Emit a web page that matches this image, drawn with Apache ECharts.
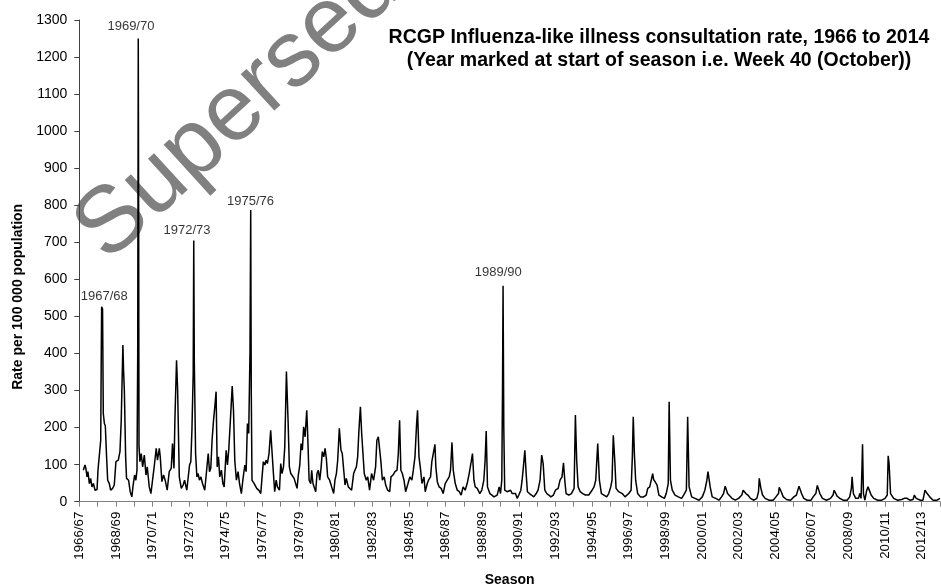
<!DOCTYPE html>
<html>
<head>
<meta charset="utf-8">
<script src="https://cdn.jsdelivr.net/npm/echarts@6/dist/echarts.min.js"></script>
<style>
html,body{margin:0;padding:0;background:#fff;}
#chart{width:941px;height:584px;}
</style>
</head>
<body>
<div id="chart"></div>
<script>
// Season tick labels (season index 0 = 1966/67, starting at week 40)
const seasonLabels = ['1966/67','1967/68','1968/69','1969/70','1970/71','1971/72','1972/73','1973/74','1974/75','1975/76',
  '1976/77','1977/78','1978/79','1979/80','1980/81','1981/82','1982/83','1983/84','1984/85','1985/86',
  '1986/87','1987/88','1988/89','1989/90','1990/91','1991/92','1992/93','1993/94','1994/95','1995/96',
  '1996/97','1997/98','1998/99','1999/00','2000/01','2001/02','2002/03','2003/04','2004/05','2005/06',
  '2006/07','2007/08','2008/09','2009/10','2010/11','2011/12','2012/13','2013/14'];

// Weekly ILI rate per 100 000, as [seasons since week 40 of 1966, rate]
const rate1966to1971 = [[0.22,85],[0.31,99],[0.36,90],[0.42,67],[0.47,81],[0.55,49],[0.62,63],[0.69,40],[0.77,49],[0.86,31],[0.97,33],
  [1.02,85],[1.09,81],[1.17,166],[1.20,400],[1.22,526],[1.27,520],[1.31,238],[1.37,211],[1.42,205],[1.49,121],[1.55,58],[1.64,49],[1.71,31],[1.82,36],[1.91,45],
  [2.0,108],[2.13,112],[2.22,135],[2.29,220],[2.38,423],[2.42,351],[2.46,301],[2.53,121],[2.58,63],[2.69,58],[2.78,27],[2.87,13],[2.94,45],
  [3.02,72],[3.09,58],[3.15,85],[3.19,400],[3.22,1250],[3.24,800],[3.26,150],[3.31,108],[3.38,130],[3.46,94],[3.55,126],[3.64,72],[3.71,94],[3.82,40],[3.91,22],
  [4.0,58],[4.11,103],[4.2,144],[4.27,112],[4.37,144],[4.42,121],[4.51,54],[4.6,72],[4.69,58],[4.8,31],[4.91,81],
  [5.02,90],[5.09,157],[5.17,90],[5.22,220],[5.31,382],[5.37,301],[5.46,67],[5.57,36],[5.67,45],[5.75,58],[5.87,31],[5.95,27]];
const rate1972to1977 = [[6.02,99],[6.09,108],[6.15,193],[6.22,346],[6.25,705],[6.28,380],[6.35,130],[6.42,67],[6.49,76],[6.56,58],[6.64,67],[6.73,49],[6.85,31],[6.93,36],
  [7.04,130],[7.11,81],[7.18,90],[7.25,166],[7.33,220],[7.40,256],[7.47,297],[7.53,94],[7.60,121],[7.67,67],[7.76,85],[7.84,49],[7.91,40],
  [8.02,139],[8.09,99],[8.16,139],[8.25,220],[8.35,312],[8.42,247],[8.49,112],[8.58,58],[8.67,81],[8.75,49],[8.85,22],[8.93,58],
  [9.04,99],[9.11,81],[9.18,211],[9.25,184],[9.32,400],[9.36,787],[9.39,300],[9.43,58],[9.55,49],[9.69,36],[9.82,30],[9.91,22],[9.98,67],
  [10.05,108],[10.13,99],[10.2,112],[10.27,103],[10.36,130],[10.45,193],[10.53,130],[10.6,76],[10.67,27],[10.75,58],[10.82,40],[10.93,31],
  [11.0,103],[11.07,76],[11.15,94],[11.22,148],[11.31,351],[11.4,220],[11.47,94],[11.55,76],[11.64,80],[11.73,63],[11.82,58],[11.89,36],[11.96,72]];
const rate1978to1983 = [[12.04,99],[12.11,157],[12.18,139],[12.25,202],[12.33,175],[12.42,247],[12.47,184],[12.55,58],[12.64,49],[12.69,85],[12.76,49],[12.84,45],[12.91,27],[12.98,76],
  [13.05,85],[13.13,58],[13.2,90],[13.27,135],[13.35,121],[13.42,144],[13.49,117],[13.56,67],[13.67,58],[13.78,40],[13.89,22],[13.96,58],
  [14.04,76],[14.11,112],[14.2,198],[14.29,139],[14.36,130],[14.44,85],[14.51,45],[14.58,63],[14.69,40],[14.76,40],[14.87,31],[14.98,76],
  [15.05,85],[15.13,94],[15.2,121],[15.27,193],[15.35,256],[15.42,184],[15.49,130],[15.56,76],[15.67,58],[15.75,67],[15.85,31],[15.96,76],
  [16.07,58],[16.18,94],[16.25,166],[16.33,175],[16.4,180],[16.47,108],[16.55,58],[16.65,67],[16.73,45],[16.84,31],[16.95,27],
  [17.02,67],[17.13,72],[17.24,81],[17.35,85],[17.42,130],[17.49,220],[17.56,85],[17.64,76],[17.73,58],[17.82,27],[17.95,49]];
const rate1984to1989 = [[18.05,67],[18.16,58],[18.24,85],[18.33,121],[18.42,211],[18.47,247],[18.55,121],[18.64,85],[18.71,49],[18.82,67],[18.89,27],
  [19.0,49],[19.07,58],[19.18,67],[19.25,108],[19.33,130],[19.42,155],[19.47,94],[19.55,54],[19.65,40],[19.76,36],[19.87,22],[19.98,49],
  [20.09,58],[20.2,67],[20.27,85],[20.35,160],[20.42,85],[20.53,49],[20.64,31],[20.75,27],[20.85,18],[20.96,40],
  [21.07,31],[21.18,49],[21.29,76],[21.4,108],[21.47,130],[21.55,58],[21.62,40],[21.73,36],[21.87,22],[21.98,31],
  [22.09,58],[22.16,112],[22.22,191],[22.29,40],[22.42,22],[22.53,18],[22.64,13],[22.82,18],[22.93,40],
  [23.0,22],[23.07,58],[23.11,300],[23.14,583],[23.18,200],[23.23,31],[23.36,27],[23.55,31],[23.64,22],[23.82,22],[23.91,9]];
const rate1990to1995 = [[24.0,18],[24.11,31],[24.18,58],[24.25,94],[24.33,139],[24.4,76],[24.47,27],[24.58,22],[24.69,18],[24.82,13],[24.95,22],
  [25.05,31],[25.16,58],[25.25,126],[25.33,103],[25.42,31],[25.53,22],[25.64,18],[25.75,13],[25.89,18],
  [26.0,31],[26.15,36],[26.25,58],[26.36,67],[26.44,105],[26.51,58],[26.58,22],[26.73,18],[26.87,22],
  [27.02,36],[27.09,234],[27.16,112],[27.24,40],[27.35,27],[27.49,22],[27.64,18],[27.82,18],
  [28.0,31],[28.11,40],[28.2,58],[28.31,157],[28.4,58],[28.51,22],[28.65,18],[28.8,13],[28.91,22],
  [29.02,40],[29.09,58],[29.16,179],[29.24,112],[29.31,36],[29.45,27],[29.51,27],[29.65,22],[29.8,13]];
const rate1996to2001 = [[30.0,22],[30.13,31],[30.2,121],[30.25,229],[30.31,130],[30.38,58],[30.49,22],[30.64,13],[30.82,13],[30.96,18],
  [31.04,36],[31.15,40],[31.25,36],[31.31,76],[31.36,60],[31.44,54],[31.55,45],[31.65,18],[31.8,13],[31.95,9],
  [32.05,22],[32.16,49],[32.21,270],[32.28,58],[32.38,31],[32.53,18],[32.71,13],[32.89,9],
  [33.0,18],[33.15,31],[33.22,229],[33.3,40],[33.44,13],[33.62,9],[33.84,4],
  [34.02,13],[34.16,31],[34.27,58],[34.33,81],[34.45,40],[34.56,13],[34.75,9],[34.93,4],
  [35.07,13],[35.18,22],[35.27,42],[35.4,22],[35.5,18],[35.64,9],[35.82,4]];
const rate2002to2007 = [[36.0,9],[36.18,18],[36.25,31],[36.4,22],[36.51,18],[36.65,9],[36.84,4],
  [37.0,9],[37.09,27],[37.13,63],[37.22,36],[37.31,18],[37.45,9],[37.67,4],[37.89,4],
  [38.04,13],[38.18,22],[38.22,39],[38.33,27],[38.44,13],[38.62,6],[38.84,4],
  [39.02,13],[39.16,18],[39.3,42],[39.44,22],[39.56,9],[39.75,4],[39.96,4],
  [40.07,13],[40.22,22],[40.3,44],[40.44,22],[40.58,9],[40.8,4],
  [41.02,9],[41.16,18],[41.22,31],[41.38,15],[41.53,9],[41.71,4],[41.93,4]];
const rate2008to2013 = [[42.07,13],[42.16,36],[42.2,67],[42.27,22],[42.4,9],[42.55,9],[42.62,22],[42.69,9],[42.74,94],[42.77,155],[42.82,22],[42.9,4],
  [43.0,31],[43.07,40],[43.14,36],[43.24,18],[43.38,9],[43.6,4],[43.82,4],
  [44.0,9],[44.12,18],[44.17,124],[44.22,103],[44.3,22],[44.47,9],[44.69,4],[44.91,6],
  [45.05,9],[45.2,9],[45.35,4],[45.53,6],[45.6,18],[45.7,9],[45.93,4],
  [46.07,4],[46.18,31],[46.3,22],[46.44,13],[46.62,4],[46.84,4],[47.0,9]];

// Labelled epidemic seasons: label and its anchor [season position, rate]
const peakLabels = ['1967/68','1969/70','1972/73','1975/76','1989/90'];
const peakLabelAnchors = [[1.365,553],[2.82,1284],[5.88,731],[9.35,810],[22.88,618]];

const titleText = 'RCGP Influenza-like illness consultation rate, 1966 to 2014\n(Year marked at start of season i.e. Week 40 (October))';

const FONT = '"Liberation Sans", Arial, Helvetica, sans-serif';
const points = [].concat(rate1966to1971, rate1972to1977, rate1978to1983, rate1984to1989,
  rate1990to1995, rate1996to2001, rate2002to2007, rate2008to2013);
const annotations = peakLabels.map((n, i) => ({ name: n, value: peakLabelAnchors[i] }));

const chart = echarts.init(document.getElementById('chart'), null, { renderer: 'canvas' });
chart.setOption({
  animation: false,
  backgroundColor: '#ffffff',
  textStyle: { fontFamily: FONT },
  title: {
    text: titleText,
    left: 654, top: 21, textAlign: 'center',
    textStyle: { fontFamily: FONT, fontSize: 19.5, fontWeight: 'bold', color: '#000', lineHeight: 23.3 }
  },
  grid: { left: 79.3, right: 1, top: 20, bottom: 82.3, containLabel: false, outerBoundsMode: 'none' },
  xAxis: {
    type: 'value', min: 0, max: 47, interval: 1,
    name: 'Season', nameLocation: 'middle', nameGap: 71,
    nameTextStyle: { fontFamily: FONT, fontSize: 14, fontWeight: 'bold', color: '#000' },
    axisLine: { show: true, lineStyle: { color: '#808080', width: 1 } },
    axisTick: { show: true, length: 5, lineStyle: { color: '#808080' } },
    axisLabel: { rotate: 90, margin: 10, fontSize: 13.3, color: '#000', fontFamily: FONT,
      formatter: v => (v % 2 === 0 ? seasonLabels[v] : '') },
    splitLine: { show: false }
  },
  yAxis: {
    type: 'value', min: 0, max: 1300, interval: 100,
    name: 'Rate per 100 000 population', nameLocation: 'middle', nameGap: 54,
    nameTextStyle: { fontFamily: FONT, fontSize: 14, fontWeight: 'bold', color: '#000', padding: [0, 72, 0, 0] },
    axisLine: { show: true, lineStyle: { color: '#404040', width: 1 } },
    axisTick: { show: true, length: 5, lineStyle: { color: '#404040' } },
    axisLabel: { margin: 12, fontSize: 14, color: '#000', fontFamily: FONT, formatter: v => String(v) },
    splitLine: { show: false }
  },
  graphic: [{
    type: 'text', x: 90, y: 244, rotation: 0.74, z: 0, silent: true,
    style: { text: 'Superseded', font: '94px "Liberation Sans", Arial, sans-serif', fill: '#808080',
      textAlign: 'left', textVerticalAlign: 'middle', align: 'left', verticalAlign: 'middle' }
  }],
  series: [
    { type: 'line', data: points, showSymbol: false, symbol: 'none', z: 3,
      lineStyle: { color: '#000', width: 1.5 } },
    { type: 'scatter', data: annotations, symbolSize: 0, z: 4, silent: true,
      label: { show: true, position: 'inside', formatter: '{b}', color: '#000', fontSize: 13, fontFamily: FONT } }
  ]
});
</script>
</body>
</html>
